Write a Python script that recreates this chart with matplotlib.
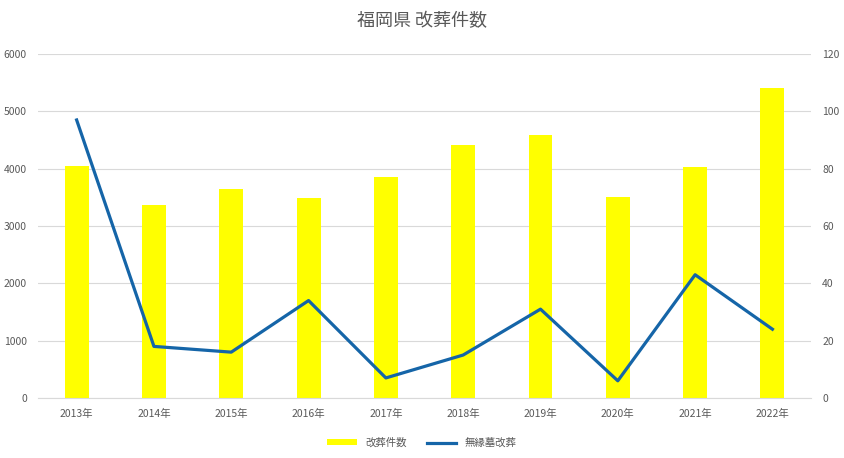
import matplotlib
matplotlib.use("Agg")
import matplotlib.pyplot as plt
import numpy as np
from matplotlib.lines import Line2D
from matplotlib.patches import Patch

plt.rcParams['font.family'] = ['Noto Sans CJK JP', 'DejaVu Sans']

years = ["2013年", "2014年", "2015年", "2016年", "2017年",
         "2018年", "2019年", "2020年", "2021年", "2022年"]
kaiso = [4050, 3370, 3645, 3490, 3855, 4415, 4590, 3505, 4030, 5405]
muen = [97, 18, 16, 34, 7, 15, 31, 6, 43, 24]

GRAY = "#595959"
fig = plt.figure(figsize=(8.44, 4.58), dpi=100)
ax = fig.add_axes([0.045, 0.131, 0.916, 0.751])
ax2 = ax.twinx()

x = np.arange(len(years))
ax.bar(x, kaiso, width=0.31, color="#FFFF00", zorder=2)
ax2.plot(x, muen, color="#1565A8", linewidth=2.3, zorder=3)

ax.set_xlim(-0.5, len(years) - 0.5)
ax.set_ylim(0, 6000)
ax.set_yticks(range(0, 6001, 1000))
ax2.set_ylim(0, 120)
ax2.set_yticks(range(0, 121, 20))
ax.set_xticks(x)
ax.set_xticklabels(years)

ax.grid(axis="y", color="#D9D9D9", linewidth=0.8, zorder=0)
ax.set_axisbelow(True)
for a in (ax, ax2):
    for s in a.spines.values():
        s.set_visible(False)
    a.tick_params(length=0, labelsize=7.5, colors=GRAY)
ax.spines["bottom"].set_visible(True)
ax.spines["bottom"].set_color("#D9D9D9")
ax.tick_params(axis="y", pad=8)
ax.tick_params(axis="x", pad=8)
ax2.tick_params(axis="y", pad=8)

fig.text(0.5, 0.953, "福岡県 改葬件数", ha="center", va="center",
         fontsize=13, color=GRAY)

handles = [Patch(facecolor="#FFFF00", edgecolor="none"),
           Line2D([0], [0], color="#1565A8", linewidth=2.3)]
fig.legend(handles, ["改葬件数", "無縁墓改葬"], loc="center",
           bbox_to_anchor=(0.5, 0.033), ncol=2, frameon=False,
           fontsize=7.5, labelcolor=GRAY, handlelength=2.8,
           handleheight=0.5, columnspacing=2.0)

fig.savefig("out.png", dpi=100)
